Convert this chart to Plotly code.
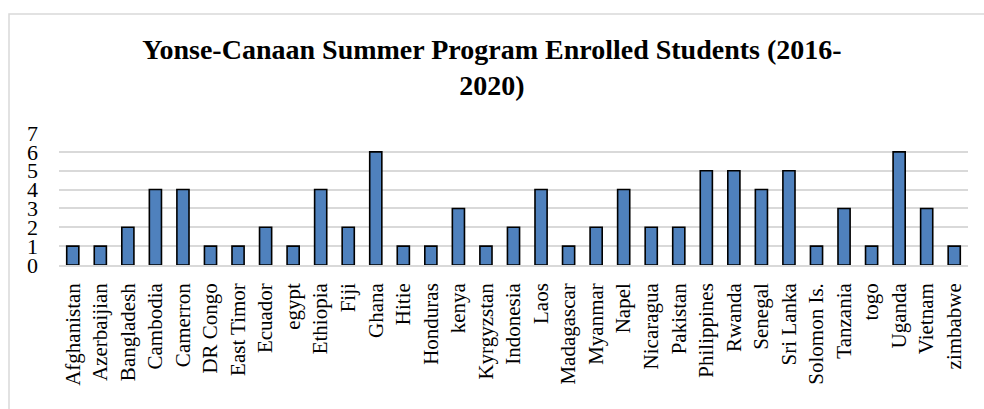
import plotly.graph_objects as go

countries = ["Afghanistan", "Azerbaijian", "Bangladesh", "Cambodia", "Camerron", "DR Congo",
             "East Timor", "Ecuador", "egypt", "Ethiopia", "Fiji", "Ghana", "Hitie", "Honduras",
             "kenya", "Kyrgyzstan", "Indonesia", "Laos", "Madagascar", "Myanmar", "Napel",
             "Nicaragua", "Pakistan", "Philippines", "Rwanda", "Senegal", "Sri Lanka",
             "Solomon Is.", "Tanzania", "togo", "Uganda", "Vietnam", "zimbabwe"]
students = [1, 1, 2, 4, 4, 1, 1, 2, 1, 4, 2, 6, 1, 1, 3, 1, 2, 4, 1, 2, 4, 2, 2, 5, 5, 4, 5,
            1, 3, 1, 6, 3, 1]
y_ticks = [0, 1, 2, 3, 4, 5, 6, 7]

W, H = 984, 409
L, R, T, B = 59, 16, 133, 144
PW, PH = W - L - R, H - T - B

fig = go.Figure(go.Bar(
    x=countries, y=students,
    marker=dict(color="#4f81bd", line=dict(color="#000000", width=1.6)),
))

fig.update_layout(
    width=W, height=H,
    margin=dict(l=L, r=R, t=T, b=B, pad=0),
    paper_bgcolor="white", plot_bgcolor="white",
    bargap=0.56,
    showlegend=False,
    font=dict(family="Liberation Serif, Times New Roman, serif", color="#000000"),
    title=dict(
        text="<b>Yonse-Canaan Summer Program Enrolled Students (2016-<br>2020)</b>",
        x=0.5, xanchor="center", xref="container",
        y=1 - 59 / H, yanchor="top", yref="container",
        font=dict(size=28, family="Liberation Serif, Times New Roman, serif", color="#000000"),
    ),
    xaxis=dict(
        tickangle=-90, tickfont=dict(size=21),
        showgrid=False, showline=True, linecolor="#d9d9d9", linewidth=1.5,
        ticks="", ticklabelstandoff=8,
    ),
    yaxis=dict(
        range=[0, 7], tickvals=y_ticks, ticktext=[str(v) for v in y_ticks],
        tickfont=dict(size=22), showgrid=True, gridcolor="#d9d9d9", gridwidth=1.5,
        zeroline=False, showline=False, ticks="", ticklabelstandoff=20,
    ),
    shapes=[dict(
        type="rect", xref="paper", yref="paper",
        x0=(9 - L) / PW, x1=(W + 10 - L) / PW,
        y0=-(B + 10) / PH, y1=(H - B - 14) / PH,
        line=dict(color="#d9d9d9", width=1.5), fillcolor="rgba(0,0,0,0)", layer="below",
    )],
)

fig.write_html("out.html")
